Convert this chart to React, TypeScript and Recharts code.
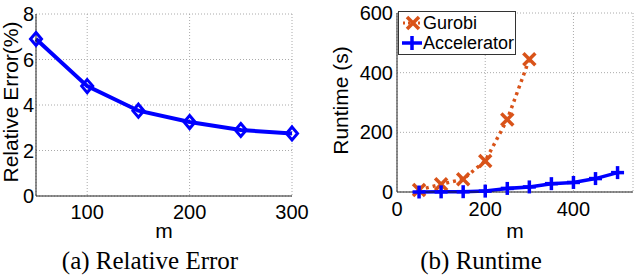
import React from "react"
import { LineChart, Line, XAxis, YAxis, CartesianGrid, Legend } from "recharts"

const mA = [50, 100, 150, 200, 250, 300]
const relErr = [6.9, 4.83, 3.75, 3.25, 2.9, 2.75]

const mB = [50, 100, 150, 200, 250, 300, 350, 400, 450, 500]
const gurobi = [7, 26, 43, 104, 243, 445]
const accel = [0, 0.5, 1, 3, 12, 17, 28, 32, 45, 65]

const ticksAX = [100, 200, 300]
const ticksAY = [0, 2, 4, 6, 8]
const ticksBX = [0, 200, 400]
const ticksBY = [0, 200, 400, 600]

const BLUE = "#0000ff"
const ORANGE = "#d95319"
const SANS = "'Liberation Sans', Arial, sans-serif"
const SERIF = "'Liberation Serif', 'Times New Roman', serif"

const dataA = mA.map((m, i) => ({ m, err: relErr[i] }))
const dataB = mB.map((m, i) => ({ m, gurobi: gurobi[i], accel: accel[i] }))

const tickStyle = { fill: "#000", fontSize: 20, fontFamily: SANS }

function Diamond(props: any) {
    const { cx, cy, index } = props
    if (cx == null || cy == null) return null
    return (
        <polygon
            key={`d-${index}`}
            points={`${cx},${cy - 6.5} ${cx + 5.5},${cy} ${cx},${cy + 6.5} ${cx - 5.5},${cy}`}
            fill="none"
            stroke={BLUE}
            strokeWidth={3}
        />
    )
}

function Cross(props: any) {
    const { cx, cy, index } = props
    if (cx == null || cy == null) return null
    const r = 6
    return (
        <g key={`x-${index}`} stroke={ORANGE} strokeWidth={3.5}>
            <line x1={cx - r} y1={cy - r} x2={cx + r} y2={cy + r} />
            <line x1={cx - r} y1={cy + r} x2={cx + r} y2={cy - r} />
        </g>
    )
}

function Plus(props: any) {
    const { cx, cy, index } = props
    if (cx == null || cy == null) return null
    const r = 6.5
    return (
        <g key={`p-${index}`} stroke={BLUE} strokeWidth={3.5}>
            <line x1={cx - r} y1={cy} x2={cx + r} y2={cy} />
            <line x1={cx} y1={cy - r} x2={cx} y2={cy + r} />
        </g>
    )
}

function YLabel(props: any) {
    const vb = props.viewBox || {}
    const cy = (vb.y ?? 0) + (vb.height ?? 0) / 2 + (props.dy ?? 0)
    const x = props.xPos
    return (
        <text
            x={x}
            y={cy}
            transform={`rotate(-90, ${x}, ${cy})`}
            textAnchor="middle"
            dominantBaseline="central"
            fontSize={21}
            fontFamily={SANS}
            fill="#000"
        >
            {props.value}
        </text>
    )
}

function XLabel(props: any) {
    const vb = props.viewBox || {}
    const cx = (vb.x ?? 0) + (vb.width ?? 0) / 2 + (props.dx ?? 0)
    return (
        <text x={cx} y={props.yPos} textAnchor="middle" fontSize={21} fontFamily={SANS} fill="#000">
            {props.value}
        </text>
    )
}

function LegendBox() {
    return (
        <div
            style={{
                border: "1px solid #333",
                background: "#fff",
                width: 118,
                height: 44,
                boxSizing: "border-box",
                fontFamily: SANS,
                fontSize: 18,
                lineHeight: "20px",
                paddingTop: 1,
            }}
        >
            <div style={{ display: "flex", alignItems: "center", height: 20 }}>
                <svg width={24} height={20}>
                    <line x1={4} y1={10} x2={22} y2={10} stroke={ORANGE} strokeWidth={3} strokeDasharray="2 3" />
                    <g stroke={ORANGE} strokeWidth={3.5}>
                        <line x1={8} y1={4} x2={20} y2={16} />
                        <line x1={8} y1={16} x2={20} y2={4} />
                    </g>
                </svg>
                <span>Gurobi</span>
            </div>
            <div style={{ display: "flex", alignItems: "center", height: 20 }}>
                <svg width={24} height={20}>
                    <line x1={3} y1={10} x2={23} y2={10} stroke={BLUE} strokeWidth={3.5} />
                    <line x1={13} y1={3} x2={13} y2={17} stroke={BLUE} strokeWidth={3.5} />
                </svg>
                <span>Accelerator</span>
            </div>
        </div>
    )
}

export default function App() {
    return (
        <div style={{ position: "absolute", left: 0, top: 0, width: 640, height: 278, background: "#fff" }}>
            <div style={{ position: "absolute", left: 0, top: 0 }}>
                <LineChart width={320} height={278} data={dataA} margin={{ top: 14, right: 28, bottom: 52, left: 0 }}>
                    <CartesianGrid stroke="#aaa" strokeDasharray="1 2" />
                    <XAxis
                        dataKey="m"
                        type="number"
                        domain={[50, 300]}
                        ticks={ticksAX}
                        tickSize={0}
                        tickMargin={9}
                        height={30}
                        tick={tickStyle}
                        stroke="#222"
                        label={<XLabel value="m" yPos={238} />}
                    />
                    <XAxis xAxisId="top" orientation="top" type="number" domain={[50, 300]} tick={false} tickLine={false} height={0} stroke="#222" />
                    <YAxis
                        type="number"
                        domain={[0, 8]}
                        ticks={ticksAY}
                        tickSize={0}
                        tickMargin={2}
                        width={36}
                        tick={tickStyle}
                        stroke="#222"
                        label={<YLabel value="Relative Error(%)" xPos={10} dy={-3} />}
                    />
                    <YAxis yAxisId="r" orientation="right" tick={false} tickLine={false} width={0} stroke="#222" />
                    <Line
                        dataKey="err"
                        stroke={BLUE}
                        strokeWidth={4}
                        dot={Diamond}
                        activeDot={false}
                        isAnimationActive={false}
                    />
                </LineChart>
            </div>
            <div style={{ position: "absolute", left: 320, top: 0 }}>
                <LineChart width={320} height={278} data={dataB} margin={{ top: 13, right: 7, bottom: 56, left: 0 }}>
                    <CartesianGrid stroke="#aaa" strokeDasharray="1 2" />
                    <XAxis
                        dataKey="m"
                        type="number"
                        domain={[0, 535]}
                        ticks={ticksBX}
                        tickSize={0}
                        tickMargin={10}
                        height={30}
                        tick={tickStyle}
                        stroke="#222"
                        label={<XLabel value="m" yPos={238} />}
                    />
                    <XAxis xAxisId="top" orientation="top" type="number" domain={[0, 535]} tick={false} tickLine={false} height={0} stroke="#222" />
                    <YAxis
                        type="number"
                        domain={[0, 600]}
                        ticks={ticksBY}
                        tickSize={0}
                        tickMargin={4}
                        width={77}
                        tick={tickStyle}
                        stroke="#222"
                        label={<YLabel value="Runtime (s)" xPos={20} dy={-2} />}
                    />
                    <YAxis yAxisId="r" orientation="right" tick={false} tickLine={false} width={0} stroke="#222" />
                    <Line
                        dataKey="gurobi"
                        stroke={ORANGE}
                        strokeWidth={3.5}
                        strokeDasharray="3 4"
                        dot={Cross}
                        activeDot={false}
                        isAnimationActive={false}
                    />
                    <Line
                        dataKey="accel"
                        stroke={BLUE}
                        strokeWidth={3.5}
                        dot={Plus}
                        activeDot={false}
                        isAnimationActive={false}
                    />
                    <Legend
                        layout="horizontal"
                        verticalAlign="middle"
                        align="center"
                        content={<LegendBox />}
                        wrapperStyle={{ position: "absolute", left: 78, top: 11, width: 118 }}
                    />
                </LineChart>
            </div>
            <div style={{ position: "absolute", left: 0, top: 248, width: 300, textAlign: "center", fontFamily: SERIF, fontSize: 25, lineHeight: "25px" }}>
                (a) Relative Error
            </div>
            <div style={{ position: "absolute", left: 320, top: 248, width: 322, textAlign: "center", fontFamily: SERIF, fontSize: 25, lineHeight: "25px" }}>
                (b) Runtime
            </div>
        </div>
    )
}
